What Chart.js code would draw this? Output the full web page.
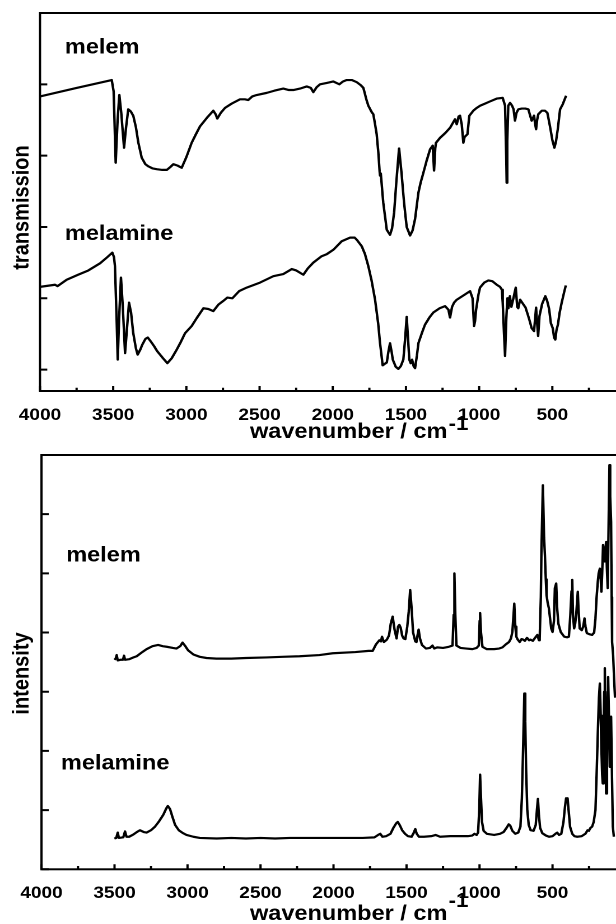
<!DOCTYPE html>
<html>
<head>
<meta charset="utf-8">
<title>melem / melamine IR and Raman spectra</title>
<script src="https://cdn.jsdelivr.net/npm/chart.js@4.4.1/dist/chart.umd.min.js"></script>
<style>
  html, body { margin: 0; padding: 0; width: 616px; height: 924px; overflow: hidden; background: #fff; }
  .panel { position: absolute; left: 0; transform-origin: 0 0; }
  #irPanel { top: 0; }
  #ramanPanel { top: 450px; }
</style>
</head>
<body>
<div class="panel" id="irPanel"><canvas id="irChart" width="572" height="450"></canvas></div>
<div class="panel" id="ramanPanel"><canvas id="ramanChart" width="572" height="474"></canvas></div>
<script>
// x tick labels (cm-1), minor ticks every 250
const xTickLabels = [4000, 3500, 3000, 2500, 2000, 1500, 1000, 500];

// IR spectra: [wavenumber, transmission (offset, tick units)]
const irMelem = [
  [4000,3.83],[3750,3.95],[3510,4.06],[3497,3.9],[3483,2.90],[3470,3.5],[3458,3.85],[3445,3.6],[3426,3.11],[3412,3.4],
  [3397,3.65],[3380,3.62],[3363,3.56],[3345,3.40],[3328,3.18],[3305,2.97],[3280,2.88],[3260,2.85],[3230,2.82],[3203,2.81],
  [3165,2.80],[3134,2.80],[3110,2.84],[3089,2.88],[3060,2.86],[3032,2.83],[3000,2.98],[2964,3.18],[2935,3.30],[2907,3.41],
  [2860,3.53],[2816,3.63],[2800,3.58],[2789,3.52],[2765,3.60],[2736,3.67],[2690,3.73],[2634,3.79],[2600,3.79],[2577,3.78],
  [2550,3.83],[2520,3.85],[2451,3.88],[2400,3.91],[2338,3.94],[2300,3.92],[2269,3.92],[2224,3.94],[2178,3.97],[2150,3.95],
  [2133,3.89],[2110,3.96],[2087,4.00],[2040,4.02],[1996,4.04],[1955,4.00],[1930,4.04],[1905,4.06],[1870,4.06],[1836,4.03],
  [1810,3.99],[1791,3.95],[1768,3.77],[1757,3.70],[1734,3.61],[1723,3.58],[1711,3.44],[1700,3.30],[1689,3.05],[1680,2.78],
  [1677,2.72],[1672,2.75],[1655,2.34],[1631,1.96],[1609,1.89],[1595,1.98],[1581,2.20],[1565,2.65],[1547,3.10],[1530,2.75],
  [1513,2.34],[1495,2.00],[1472,1.88],[1455,1.95],[1438,2.11],[1415,2.48],[1400,2.62],[1381,2.76],[1360,2.92],[1335,3.09],
  [1317,3.14],[1308,2.79],[1300,3.10],[1295,3.18],[1267,3.25],[1230,3.32],[1199,3.39],[1165,3.51],[1153,3.44],[1140,3.55],
  [1131,3.56],[1119,3.44],[1108,3.18],[1100,3.26],[1090,3.28],[1080,3.30],[1067,3.56],[1040,3.63],[1016,3.67],[994,3.70],
  [960,3.73],[926,3.76],[880,3.80],[839,3.81],[823,3.70],[815,3.00],[812,2.62],[808,3.20],[801,3.70],[789,3.74],
  [775,3.70],[765,3.65],[755,3.49],[745,3.60],[732,3.65],[709,3.66],[685,3.66],[664,3.65],[650,3.55],[641,3.49],
  [625,3.56],[618,3.45],[611,3.37],[604,3.50],[596,3.58],[572,3.63],[550,3.63],[534,3.60],[516,3.41],[500,3.22],
  [486,3.11],[475,3.20],[463,3.37],[447,3.65],[429,3.72],[406,3.84]
];
const irMelamine = [
  [4000,1.16],[3898,1.19],[3880,1.17],[3818,1.26],[3740,1.33],[3670,1.39],[3590,1.49],[3544,1.57],[3506,1.64],[3495,1.58],
  [3488,1.45],[3478,0.80],[3469,0.14],[3460,0.70],[3447,1.29],[3435,0.90],[3419,0.23],[3405,0.60],[3392,0.94],[3378,0.80],
  [3363,0.51],[3345,0.30],[3333,0.21],[3315,0.28],[3301,0.35],[3280,0.43],[3264,0.45],[3245,0.40],[3221,0.33],[3200,0.26],
  [3180,0.21],[3160,0.16],[3130,0.09],[3100,0.16],[3066,0.28],[3040,0.38],[3009,0.51],[2964,0.61],[2930,0.72],[2884,0.86],
  [2850,0.85],[2816,0.82],[2782,0.91],[2750,0.96],[2720,1.01],[2686,1.00],[2640,1.10],[2588,1.15],[2497,1.22],[2406,1.31],
  [2338,1.34],[2280,1.41],[2250,1.39],[2201,1.33],[2170,1.42],[2133,1.50],[2076,1.59],[2040,1.62],[1996,1.68],[1939,1.80],
  [1882,1.85],[1850,1.85],[1836,1.82],[1802,1.73],[1780,1.62],[1757,1.45],[1735,1.25],[1711,0.98],[1690,0.65],[1677,0.37],
  [1659,0.06],[1645,0.08],[1631,0.10],[1620,0.25],[1609,0.37],[1598,0.25],[1590,0.14],[1570,0.04],[1552,0.01],[1535,0.05],
  [1518,0.14],[1505,0.45],[1495,0.74],[1485,0.40],[1477,0.14],[1468,0.09],[1458,0.14],[1448,0.05],[1438,0.02],[1425,0.20],
  [1415,0.37],[1390,0.52],[1370,0.63],[1340,0.73],[1313,0.80],[1270,0.86],[1233,0.89],[1210,0.84],[1199,0.73],[1185,0.88],
  [1171,0.94],[1153,0.98],[1100,1.05],[1062,1.10],[1045,1.00],[1035,0.61],[1028,0.68],[1021,0.84],[1005,1.05],[994,1.15],
  [965,1.22],[937,1.25],[910,1.24],[880,1.19],[857,1.16],[845,1.12],[839,0.94],[830,0.50],[823,0.19],[815,0.70],
  [807,1.00],[800,0.86],[790,1.03],[780,0.88],[766,1.00],[750,1.15],[740,0.88],[733,0.86],[720,0.98],[700,0.92],
  [683,0.87],[660,0.72],[641,0.58],[625,0.54],[611,0.87],[604,0.65],[597,0.47],[588,0.75],[570,0.92],[548,1.03],
  [535,0.96],[522,0.85],[510,0.65],[497,0.58],[488,0.45],[480,0.42],[472,0.55],[462,0.63],[450,0.80],[436,0.94],
  [420,1.08],[408,1.18]
];

// Raman spectra: [wavenumber, intensity (offset, tick units)]
const ramanMelem = [
  [3501,3.54],[3492,3.56],[3485,3.62],[3478,3.53],[3460,3.54],[3442,3.54],[3435,3.61],[3428,3.54],[3400,3.55],[3370,3.58],
  [3348,3.60],[3310,3.67],[3280,3.72],[3240,3.77],[3201,3.79],[3170,3.77],[3143,3.76],[3100,3.74],[3075,3.73],[3050,3.77],
  [3034,3.83],[3015,3.77],[2996,3.70],[2960,3.63],[2916,3.59],[2870,3.57],[2802,3.56],[2700,3.56],[2600,3.57],[2460,3.58],
  [2350,3.59],[2233,3.60],[2096,3.62],[2005,3.65],[1850,3.67],[1760,3.69],[1732,3.69],[1709,3.80],[1686,3.87],[1675,3.85],
  [1668,3.93],[1655,3.84],[1635,3.88],[1620,3.95],[1608,4.15],[1595,4.27],[1582,4.05],[1568,3.90],[1558,4.10],[1549,4.13],
  [1540,4.08],[1530,3.95],[1520,3.90],[1508,3.89],[1495,4.10],[1485,4.35],[1475,4.72],[1465,4.40],[1455,4.00],[1440,3.85],
  [1432,3.84],[1425,3.95],[1417,4.05],[1408,3.90],[1394,3.79],[1367,3.73],[1340,3.74],[1322,3.78],[1310,3.73],[1290,3.75],
  [1250,3.74],[1210,3.76],[1185,3.78],[1177,4.30],[1172,5.00],[1166,4.30],[1158,3.78],[1130,3.74],[1090,3.73],[1049,3.72],
  [1020,3.74],[1005,3.78],[999,4.20],[996,4.33],[990,4.00],[980,3.76],[950,3.72],[900,3.72],[866,3.73],[843,3.75],
  [820,3.80],[798,3.84],[785,3.90],[775,4.01],[762,4.49],[755,4.10],[748,3.93],[738,3.88],[725,3.84],[712,3.89],
  [700,3.88],[690,3.86],[675,3.91],[660,3.87],[650,3.88],[635,3.86],[620,3.91],[604,3.96],[593,3.87],[588,3.90],
  [580,4.60],[576,5.40],[566,6.49],[558,5.60],[552,5.30],[546,4.90],[541,4.63],[533,4.50],[525,4.41],[515,4.20],
  [509,4.07],[500,4.01],[490,4.20],[484,4.75],[475,4.83],[468,4.40],[460,4.15],[444,4.01],[420,3.93],[400,3.92],
  [388,3.93],[378,4.30],[370,4.70],[365,4.89],[360,4.30],[352,4.07],[345,4.15],[338,4.30],[327,4.69],[322,4.40],
  [314,4.07],[300,4.04],[290,4.10],[281,4.24],[274,4.10],[265,3.99],[245,3.97],[229,3.96],[215,4.00],[206,4.24],
  [198,4.60],[190,4.86],[184,5.00],[176,5.08],[170,4.90],[165,4.69],[160,5.00],[154,5.48],[148,5.30],[142,5.20],
  [138,5.40],[133,5.53],[128,5.10],[122,4.75],[116,5.80],[110,6.83],[105,6.30],[99,5.87],[95,4.60],[92,3.84],
  [85,3.62],[78,3.20],[72,2.90]
];
const ramanMelamine = [
  [3501,0.52],[3488,0.53],[3478,0.62],[3470,0.53],[3440,0.54],[3428,0.64],[3418,0.55],[3400,0.55],[3370,0.59],[3340,0.64],
  [3326,0.66],[3300,0.63],[3280,0.62],[3250,0.66],[3223,0.72],[3195,0.81],[3166,0.92],[3145,1.03],[3135,1.07],[3120,1.02],
  [3105,0.90],[3085,0.75],[3060,0.66],[3030,0.61],[3007,0.58],[2960,0.55],[2916,0.53],[2800,0.52],[2700,0.53],[2600,0.52],
  [2500,0.53],[2400,0.52],[2300,0.53],[2200,0.53],[2100,0.53],[2000,0.53],[1900,0.53],[1800,0.53],[1720,0.54],[1695,0.58],
  [1680,0.60],[1665,0.55],[1640,0.56],[1610,0.60],[1590,0.70],[1570,0.78],[1560,0.80],[1545,0.74],[1530,0.66],[1510,0.60],
  [1490,0.56],[1465,0.55],[1450,0.62],[1440,0.68],[1430,0.60],[1415,0.55],[1380,0.55],[1330,0.56],[1300,0.58],[1270,0.55],
  [1200,0.56],[1150,0.56],[1080,0.56],[1050,0.57],[1035,0.60],[1020,0.58],[1010,0.62],[1002,1.00],[996,1.60],[990,1.20],
  [983,0.80],[972,0.65],[950,0.60],[900,0.58],[860,0.60],[835,0.63],[815,0.70],[800,0.76],[790,0.74],[775,0.65],
  [755,0.60],[735,0.62],[720,0.72],[710,1.20],[700,2.20],[693,2.97],[687,2.50],[681,1.70],[673,1.00],[663,0.75],
  [650,0.66],[630,0.65],[615,0.75],[607,1.00],[600,1.19],[593,0.90],[585,0.70],[570,0.61],[545,0.57],[524,0.55],
  [500,0.56],[480,0.60],[468,0.62],[455,0.58],[440,0.60],[425,0.80],[415,1.05],[407,1.20],[402,1.15],[397,1.20],
  [390,1.00],[380,0.72],[365,0.60],[350,0.56],[331,0.55],[300,0.56],[275,0.60],[260,0.66],[251,0.65],[240,0.70],
  [229,0.72],[218,0.80],[206,1.00],[198,1.60],[190,2.30],[182,2.90],[176,3.14],[170,2.60],[165,2.02],[160,1.60],
  [156,1.45],[150,2.40],[146,3.00],[142,3.40],[138,2.60],[133,1.28],[127,2.30],[122,3.00],[119,3.25],[114,2.60],
  [108,1.73],[104,2.20],[99,2.58],[93,1.60],[87,0.72],[80,0.55]
];

// the original figure is stretched horizontally, so the canvases are too
const stretchX = 1.12;
const fontFamily = '"Liberation Sans", Arial, Helvetica, sans-serif';

// box, inward ticks, curve labels and axis titles
const framePlugin = {
  id: 'frame',
  afterDraw(chart, args, opts) {
    const { ctx, chartArea: area, scales: { x, y } } = chart;
    ctx.save();
    ctx.strokeStyle = '#000';
    ctx.lineWidth = 2;
    ctx.strokeRect(area.left, area.top, area.right - area.left, area.bottom - area.top);

    ctx.beginPath();
    x.ticks.forEach(t => {
      const px = x.getPixelForValue(t.value);
      const len = t.value % 500 === 0 ? 5 : 3.3;
      ctx.moveTo(px, area.bottom);
      ctx.lineTo(px, area.bottom - len);
    });
    y.ticks.forEach(t => {
      const py = y.getPixelForValue(t.value);
      ctx.moveTo(area.left, py);
      ctx.lineTo(area.left + 6.5, py);
    });
    ctx.stroke();

    ctx.fillStyle = '#000';
    ctx.textAlign = 'left';
    ctx.textBaseline = 'alphabetic';
    ctx.font = `bold 21px ${fontFamily}`;
    opts.curveLabels.forEach(l => {
      ctx.fillText(l.text, x.getPixelForValue(l.wn), y.getPixelForValue(l.val));
    });

    const xTitle = 'wavenumber / cm';
    ctx.fillText(xTitle, opts.xTitleLeft, opts.xTitleBaseline);
    const w = ctx.measureText(xTitle).width;
    ctx.font = `bold 20px ${fontFamily}`;
    ctx.fillText('-1', opts.xTitleLeft + w + 1, opts.xTitleBaseline - opts.expRaise);

    ctx.translate(opts.yTitleBaseline, opts.yTitleCenter);
    ctx.rotate(-Math.PI / 2);
    ctx.textAlign = 'center';
    ctx.font = `bold 20px ${fontFamily}`;
    ctx.fillText(opts.yTitle, 0, 0);
    ctx.restore();
  }
};

function toPoints(pairs) {
  return pairs.map(([wn, v]) => ({ x: wn, y: v }));
}

function makeSpectrumChart(canvasId, series, yMin, yMax, box, deco) {
  return new Chart(document.getElementById(canvasId).getContext('2d'), {
    type: 'line',
    data: {
      datasets: series.map(s => ({
        data: toPoints(s),
        borderColor: '#000',
        borderWidth: 2.2,
        borderJoinStyle: 'round',
        pointRadius: 0,
        tension: 0,
        fill: false
      }))
    },
    options: {
      responsive: false,
      animation: false,
      devicePixelRatio: 2,
      events: [],
      layout: { padding: { top: box.top, right: box.right, left: 0, bottom: 0 } },
      plugins: {
        legend: { display: false },
        tooltip: { enabled: false },
        frame: deco
      },
      scales: {
        x: {
          type: 'linear',
          reverse: true,
          min: 0,
          max: 4000,
          grid: { display: false },
          border: { display: false },
          ticks: {
            stepSize: 250,
            autoSkip: false,
            maxRotation: 0,
            minRotation: 0,
            padding: 6,
            color: '#000',
            font: { family: fontFamily, size: 17, weight: 'bold' },
            callback: v => xTickLabels.includes(v) ? String(v) : ''
          },
          afterFit: s => { s.height = box.axisBottom; }
        },
        y: {
          min: yMin,
          max: yMax,
          grid: { display: false },
          border: { display: false },
          ticks: { display: false, stepSize: 1, includeBounds: false },
          afterFit: s => { s.width = box.axisLeft; }
        }
      }
    },
    plugins: [framePlugin]
  });
}

document.getElementById('irPanel').style.transform = `scaleX(${stretchX})`;
document.getElementById('ramanPanel').style.transform = `scaleX(${stretchX})`;

makeSpectrumChart('irChart', [irMelem, irMelamine], -0.3, 5,
  { top: 13, right: 13.5, axisLeft: 40 / stretchX, axisBottom: 59 },
  {
    curveLabels: [{ text: 'melem', wn: 3830, val: 4.43 }, { text: 'melamine', wn: 3830, val: 1.82 }],
    yTitle: 'transmission', yTitleBaseline: 25.3, yTitleCenter: 207.5,
    xTitleLeft: 250 / stretchX, xTitleBaseline: 438, expRaise: 8
  });

makeSpectrumChart('ramanChart', [ramanMelem, ramanMelamine], 0, 7,
  { top: 5, right: 13.5, axisLeft: 41.5 / stretchX, axisBottom: 54.7 },
  {
    curveLabels: [{ text: 'melem', wn: 3831, val: 5.2 }, { text: 'melamine', wn: 3867, val: 1.69 }],
    yTitle: 'intensity', yTitleBaseline: 25.3, yTitleCenter: 223.5,
    xTitleLeft: 250 / stretchX, xTitleBaseline: 470, expRaise: 13
  });
</script>
</body>
</html>
